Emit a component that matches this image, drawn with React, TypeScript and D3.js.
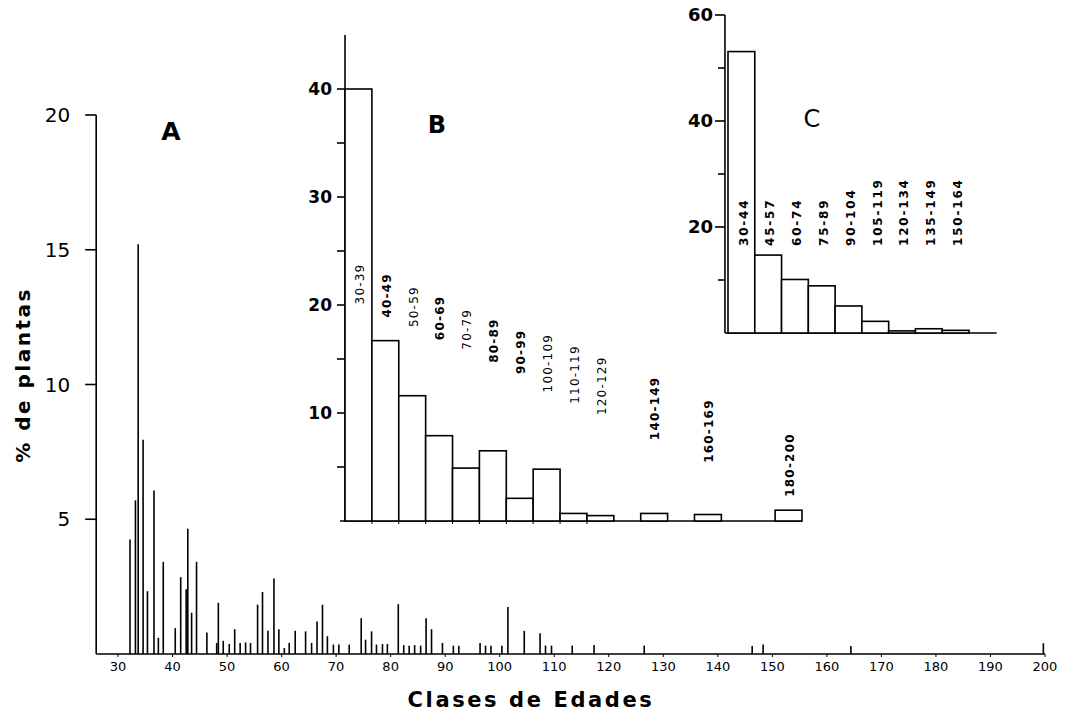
import React from 'react'
import * as d3 from 'd3'

// A: individual ages (years) and % of plants
const agesA = [32.2, 33.2, 33.7, 34.6, 35.4, 36.6, 37.4, 38.3, 40.5, 41.5, 42.5, 42.8, 43.5, 44.4,
  46.3, 48.1, 48.4, 49.3, 50.4, 51.4, 52.4, 53.4, 54.3, 55.6, 56.5, 57.5, 58.6, 59.5,
  60.5, 61.4, 62.5, 64.4, 65.5, 66.5, 67.5, 68.4, 69.5, 70.5, 72.4, 74.6, 75.4, 76.5,
  77.4, 78.5, 79.4, 81.4, 82.4, 83.4, 84.4, 85.5, 86.5, 87.5, 89.5, 91.5, 92.5, 96.4,
  97.4, 98.4, 100.4, 101.5, 104.5, 107.4, 108.4, 109.5, 113.3, 117.3, 126.5, 146.3,
  148.3, 164.4, 199.7]
const valuesA = [4.25, 5.7, 15.2, 7.95, 2.33, 6.07, 0.6, 3.42, 0.96, 2.85, 2.4, 4.65, 1.53, 3.42,
  0.8, 0.41, 1.9, 0.49, 0.37, 0.92, 0.41, 0.43, 0.41, 1.83, 2.3, 0.86, 2.8, 0.92,
  0.22, 0.41, 0.86, 0.84, 0.41, 1.21, 1.83, 0.66, 0.35, 0.35, 0.35, 1.33, 0.53, 0.84,
  0.35, 0.37, 0.37, 1.85, 0.33, 0.31, 0.33, 0.31, 1.33, 0.92, 0.41, 0.31, 0.31, 0.41,
  0.31, 0.31, 0.31, 1.74, 0.86, 0.77, 0.31, 0.31, 0.31, 0.33, 0.31, 0.3,
  0.35, 0.3, 0.4]
const xTicksA = [30, 40, 50, 60, 70, 80, 90, 100, 110, 120, 130, 140, 150, 160, 170, 180, 190, 200]
const yTicksA = [5, 10, 15, 20]

// B: 10-year classes
const startsB = [30, 40, 50, 60, 70, 80, 90, 100, 110, 120, 130, 140, 150, 160, 170, 180, 190]
const valuesB = [40, 16.7, 11.6, 7.9, 4.9, 6.5, 2.1, 4.8, 0.7, 0.5, 0, 0.7, 0, 0.6, 0, 0, 1.0]
const labelsB = ['30-39', '40-49', '50-59', '60-69', '70-79', '80-89', '90-99', '100-109',
  '110-119', '120-129', '', '140-149', '', '160-169', '', '', '180-200']
const yTicksB = [5, 10, 15, 20, 25, 30, 35, 40]
const yLabelsB = [10, 20, 30, 40]

// C: 15-year classes
const startsC = [30, 45, 60, 75, 90, 105, 120, 135, 150]
const valuesC = [53.1, 14.7, 10.1, 8.9, 5.1, 2.2, 0.4, 0.8, 0.5]
const labelsC = ['30-44', '45-57', '60-74', '75-89', '90-104', '105-119', '120-134', '135-149', '150-164']
const yTicksC = [10, 20, 30, 40, 50, 60]
const yLabelsC = [20, 40, 60]

const font = '"DejaVu Sans", sans-serif'
// hand lettering: some class labels are inked heavier than others
const boldB = new Set([1, 3, 5, 6, 11, 13, 16])

export default function App() {
  const xA = d3.scaleLinear().domain([30, 200]).range([118, 1045])
  const yA = d3.scaleLinear().domain([0, 20]).range([654, 115])

  const xB = d3.scaleLinear().domain([30, 200]).range([345, 802])
  const yB = d3.scaleLinear().domain([0, 40]).range([521, 89])
  const labelYB = d3.scaleLinear().domain([0, 16]).range([284, 465])

  const xC = d3.scaleLinear().domain([30, 165]).range([728, 969])
  const yC = d3.scaleLinear().domain([0, 60]).range([333, 15])

  const sw = 1.6

  return (
    <svg width={1070} height={713} style={{ position: 'absolute', left: 0, top: 0, background: '#fff' }}
      fontFamily={font}>
      {/* ---------- A ---------- */}
      <g stroke="#000" strokeWidth={sw} fill="none">
        <line x1={xA(26)} x2={xA(26)} y1={yA(20)} y2={yA(0)} />
        <line x1={xA(26)} x2={xA(200)} y1={yA(0)} y2={yA(0)} />
        {yTicksA.map(t => (
          <line key={t} x1={xA(26) - 11} x2={xA(26)} y1={yA(t)} y2={yA(t)} />
        ))}
        {xTicksA.map(t => (
          <line key={t} x1={xA(t)} x2={xA(t)} y1={yA(0)} y2={yA(0) + 3} strokeWidth={1} />
        ))}
        {agesA.map((a, i) => (
          <line key={i} x1={xA(a)} x2={xA(a)} y1={yA(0)} y2={yA(valuesA[i])} />
        ))}
      </g>
      {yTicksA.map(t => (
        <text key={t} x={xA(26) - 26} y={yA(t)} dy="0.36em" textAnchor="end" fontSize={20}>{t}</text>
      ))}
      {xTicksA.map(t => (
        <text key={t} x={xA(t)} y={yA(0) + 17} textAnchor="middle" fontSize={13}>{t}</text>
      ))}
      <text x={171} y={140} textAnchor="middle" fontSize={25} fontWeight="bold">A</text>
      <text transform="translate(30,375) rotate(-90)" textAnchor="middle" fontSize={20}
        fontWeight="bold" letterSpacing={2.5}>% de plantas</text>
      <text x={531} y={707} textAnchor="middle" fontSize={21} fontWeight="bold"
        letterSpacing={2.6}>Clases de Edades</text>

      {/* ---------- B ---------- */}
      <g stroke="#000" strokeWidth={sw}>
        <line x1={xB(30)} x2={xB(30)} y1={yB(45)} y2={yB(0)} />
        <line x1={xB(30) - 5} x2={xB(200)} y1={yB(0)} y2={yB(0)} />
        {yTicksB.map(t => (
          <line key={t} x1={xB(30) - 8} x2={xB(30)} y1={yB(t)} y2={yB(t)} />
        ))}
        {startsB.map((s, i) => valuesB[i] > 0 && (
          <rect key={i} x={xB(s)} y={yB(valuesB[i])} width={xB(s + 10) - xB(s)}
            height={yB(0) - yB(valuesB[i])} fill="#fff" />
        ))}
        {startsB.slice(1, 10).map(s => (
          <line key={s} x1={xB(s)} x2={xB(s)} y1={yB(0)} y2={yB(0) + 3} strokeWidth={1} />
        ))}
      </g>
      {yLabelsB.map(t => (
        <text key={t} x={xB(30) - 13} y={yB(t)} dy="0.36em" textAnchor="end" fontSize={17}
          fontWeight="bold">{t}</text>
      ))}
      {labelsB.map((l, i) => l && (
        <text key={i} transform={`translate(${xB(startsB[i] + 5) + 1},${labelYB(i)}) rotate(-90)`}
          dy="0.36em" textAnchor="middle" fontSize={12} fontWeight={boldB.has(i) ? 'bold' : 'normal'}
          letterSpacing={1.2}>{l}</text>
      ))}
      <text x={437} y={133} textAnchor="middle" fontSize={24} fontWeight="bold">B</text>

      {/* ---------- C ---------- */}
      <g stroke="#000" strokeWidth={sw}>
        <line x1={xC(28.3)} x2={xC(28.3)} y1={yC(60)} y2={yC(0)} />
        <line x1={xC(28.3)} x2={xC(180.5)} y1={yC(0)} y2={yC(0)} />
        {yTicksC.map(t => (
          <line key={t} x1={xC(28.3) - (t % 20 ? 7 : 10)} x2={xC(28.3)} y1={yC(t)} y2={yC(t)} />
        ))}
        {startsC.map((s, i) => (
          <rect key={i} x={xC(s)} y={yC(valuesC[i])} width={xC(s + 15) - xC(s)}
            height={yC(0) - yC(valuesC[i])} fill="#fff" />
        ))}
      </g>
      {yLabelsC.map(t => (
        <text key={t} x={xC(28.3) - 12} y={yC(t)} dy="0.36em" textAnchor="end" fontSize={18}
          fontWeight="bold">{t}</text>
      ))}
      {labelsC.map((l, i) => (
        <text key={i} transform={`translate(${xC(startsC[i] + 7.5) + 2},246) rotate(-90)`}
          dy="0.36em" textAnchor="start" fontSize={12} fontWeight="bold" letterSpacing={1.8}>{l}</text>
      ))}
      <text x={812} y={127} textAnchor="middle" fontSize={24}>C</text>
    </svg>
  )
}
